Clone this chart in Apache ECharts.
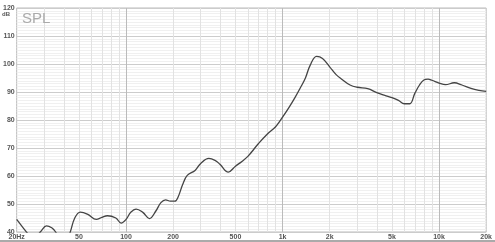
<!DOCTYPE html>
<html><head><meta charset="utf-8">
<script src="https://cdn.jsdelivr.net/npm/echarts@6/dist/echarts.min.js"></script>
<style>html,body{margin:0;padding:0;background:#fff}#c{width:495px;height:242px}</style>
</head><body><div id="c"></div>
<script>
const freqs = [20,22,24,26,28.5,31,33.5,35.5,38,41,44,47,51,57,64.5,70,76,86,93,100,107,116,128,141,155,167,179,192,205,215,230,246,276,300,338,370,398,450,500,550,600,700,800,900,1000,1100,1200,1300,1400,1500,1650,1800,2000,2200,2400,2700,3000,3500,4000,4500,5000,5500,6000,6500,7000,7500,8000,8500,9000,10000,11000,12500,14000,16000,18000,20000];
const spl   = [44.5,41.5,39,38,40.2,42.2,41.5,40,37,36,40,45,47.1,46.3,44.5,45.2,45.8,45,43.2,44.5,47,48.2,47,44.8,47.5,50.5,51.5,51,51,52.5,57,60.2,62,64.5,66.3,65.6,64.2,61.4,63.5,65.2,67,71.5,75,77.5,81,84.5,88,91.5,95,99.5,102.7,102,99,96.2,94.5,92.5,91.7,91.2,89.8,88.8,88,87,85.8,85.8,89.5,92.5,94.3,94.6,94.2,93.2,92.6,93.3,92.5,91.3,90.6,90.2];
const xTickValues = [20,50,100,200,500,1000,2000,5000,10000,20000];
const xTickLabels = ['20Hz','50','100','200','500','1k','2k','5k','10k','20k'];
const minorFreqs = [30,40,50,60,70,80,90,200,300,400,500,600,700,800,900,2000,3000,4000,5000,6000,7000,8000,9000];
const majorFreqs = [100,1000,10000];
const yMin = 40, yMax = 120, yStep = 10;

const chart = echarts.init(document.getElementById('c'), null, {renderer:'canvas'});
const labelMap = {};
xTickValues.forEach((v,i)=>labelMap[v]=xTickLabels[i]);
chart.setOption({
  animation:false,
  backgroundColor:'#fff',
  grid:{left:13,right:8,top:8,bottom:10,show:true,borderColor:'#bbb',borderWidth:1},
  xAxis:{type:'log',logBase:10,min:20,max:20000,
    axisLine:{show:false},axisTick:{show:false},splitLine:{show:false},minorSplitLine:{show:false},
    axisLabel:{customValues:xTickValues,formatter:v=>labelMap[Math.round(v)]||'',fontSize:7,fontWeight:'bold',color:'#555',margin:2,fontFamily:'Liberation Sans'}
  },
  yAxis:{type:'value',min:yMin,max:yMax,interval:yStep,
    axisLine:{show:false},axisTick:{show:false},
    axisLabel:{fontSize:7,fontWeight:'bold',color:'#555',margin:2,fontFamily:'Liberation Sans'},
    splitLine:{show:true,lineStyle:{color:'#ccc',width:1}},
    minorTick:{show:false,splitNumber:10},
    minorSplitLine:{show:true,lineStyle:{color:'#f0f0f0',width:1}}
  },
  graphic:[
    {type:'text',z:100,left:22,top:11,style:{text:'SPL',fontSize:15,fill:'#aaa',fontFamily:'Liberation Sans'}},
    {type:'text',z:100,left:2,top:11,style:{text:'dB',fontSize:6,fontWeight:'bold',fill:'#555',fontFamily:'Liberation Sans'}},
    {type:'rect',z:100,left:0,top:240,shape:{width:495,height:2},style:{fill:'#aaa'}}
  ],
  series:[
    {type:'line',data:freqs.map((f,i)=>[f,spl[i]]),smooth:0.4,showSymbol:false,clip:true,z:10,
     lineStyle:{color:'#444',width:1.3},
     markLine:{silent:true,symbol:'none',label:{show:false},animation:false,z:1,
       data:[
         ...minorFreqs.map(f=>({xAxis:f,lineStyle:{color:'#e2e2e2',width:1,type:'solid'}})),
         ...majorFreqs.map(f=>({xAxis:f,lineStyle:{color:'#bbb',width:1,type:'solid'}}))
       ]}
    }
  ]
});
</script></body></html>
